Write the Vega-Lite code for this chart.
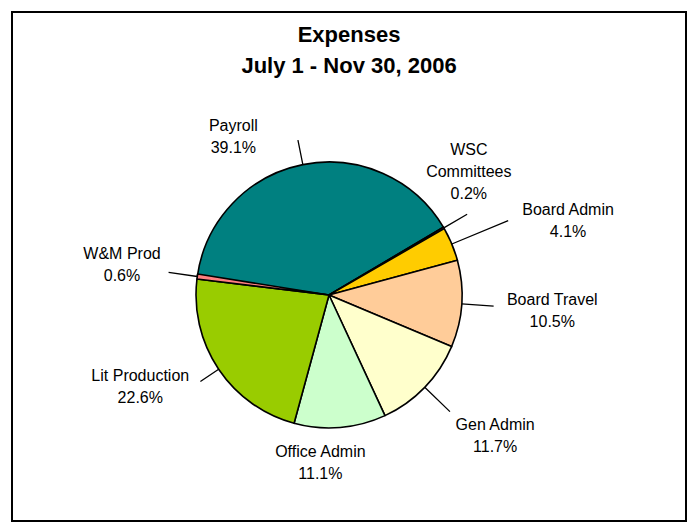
{
  "$schema": "https://vega.github.io/schema/vega-lite/v6.json",
  "width": 674,
  "height": 509,
  "autosize": {"type": "none"},
  "padding": {"left": 12, "top": 12, "right": 5, "bottom": 2},
  "background": "white",
  "title": {
    "text": ["Expenses", "July 1 - Nov 30, 2006"],
    "font": "Liberation Sans",
    "fontSize": 22,
    "fontWeight": "bold",
    "lineHeight": 31,
    "anchor": "middle",
    "frame": "group",
    "offset": -66,
    "color": "black"
  },
  "data": {
    "values": [
      {"category": "Payroll", "pct": 39.1},
      {"category": "WSC Committees", "pct": 0.2},
      {"category": "Board Admin", "pct": 4.1},
      {"category": "Board Travel", "pct": 10.5},
      {"category": "Gen Admin", "pct": 11.7},
      {"category": "Office Admin", "pct": 11.1},
      {"category": "Lit Production", "pct": 22.6},
      {"category": "W&M Prod", "pct": 0.6}
    ]
  },
  "transform": [
    {"window": [{"op": "sum", "field": "pct", "as": "end"}], "frame": [null, 0]},
    {"calculate": "datum.end - datum.pct", "as": "start"},
    {"calculate": "datum.end - datum.pct / 2", "as": "mid"},
    {"calculate": "(datum.category == 'WSC Committees' ? 'WSC|Committees' : datum.category) + '|' + format(datum.pct, '.1f') + '%'", "as": "label"}
  ],
  "layer": [
    {
      "mark": {"type": "arc", "x": 317, "y": 283, "radius": 133, "stroke": "black", "strokeWidth": 1.6, "strokeJoin": "round"},
      "encoding": {
        "theta": {"field": "start", "type": "quantitative", "scale": {"zero": true, "nice": false, "range": [4.852, 11.1352]}},
        "theta2": {"field": "end"},
        "color": {
          "field": "category",
          "type": "nominal",
          "scale": {
            "domain": ["Payroll", "WSC Committees", "Board Admin", "Board Travel", "Gen Admin", "Office Admin", "Lit Production", "W&M Prod"],
            "range": ["#008080", "#333399", "#FFCC00", "#FFCC99", "#FFFFCC", "#CCFFCC", "#99CC00", "#FF8080"]
          },
          "legend": null
        }
      }
    },
    {
      "transform": [{"filter": "datum.category != 'Office Admin'"}],
      "mark": {
        "type": "arc", "x": 317, "y": 283, "filled": false, "stroke": "black", "strokeWidth": 1.3,
        "radius2": 133,
        "radius": {"expr": "datum.category == 'Payroll' ? 158 : datum.category == 'WSC Committees' ? 160 : datum.category == 'Board Admin' ? 194 : datum.category == 'Board Travel' ? 165 : datum.category == 'Gen Admin' ? 168 : datum.category == 'Lit Production' ? 155 : 162"}
      },
      "encoding": {
        "theta": {"field": "mid", "type": "quantitative"},
        "theta2": {"field": "mid"}
      }
    },
    {
      "mark": {
        "type": "text", "x": 317, "y": 283,
        "font": "Liberation Sans", "fontSize": 16, "lineHeight": 22, "lineBreak": "|",
        "align": "center", "baseline": "middle", "color": "black",
        "radius": {"expr": "datum.category == 'Payroll' ? 186 : datum.category == 'WSC Committees' ? 186 : datum.category == 'Board Admin' ? 250 : datum.category == 'Board Travel' ? 224 : datum.category == 'Gen Admin' ? 218 : datum.category == 'Office Admin' ? 167 : datum.category == 'Lit Production' ? 208 : 210"},
        "thetaOffset": {"expr": "datum.category == 'Payroll' ? -0.342 : datum.category == 'WSC Committees' ? -0.191 : datum.category == 'Board Admin' ? 0.096 : datum.category == 'Board Travel' ? 0.012 : datum.category == 'Gen Admin' ? -0.063 : datum.category == 'Office Admin' ? 0.136 : datum.category == 'Lit Production' ? 0.158 : 0.030"},
        "dy": {"expr": "datum.category == 'Payroll' ? -9 : datum.category == 'WSC Committees' ? -22 : datum.category == 'Board Admin' ? -12 : datum.category == 'Board Travel' ? -12.5 : datum.category == 'Gen Admin' ? -11.5 : datum.category == 'Office Admin' ? -10 : -6"}
      },
      "encoding": {
        "theta": {"field": "mid", "type": "quantitative"},
        "text": {"field": "label", "type": "nominal"}
      }
    }
  ],
  "config": {
    "view": {"stroke": "black", "strokeWidth": 2},
    "style": {"view": {"stroke": "black", "strokeWidth": 2}, "cell": {"stroke": "black", "strokeWidth": 2}},
    "font": "Liberation Sans"
  }
}
